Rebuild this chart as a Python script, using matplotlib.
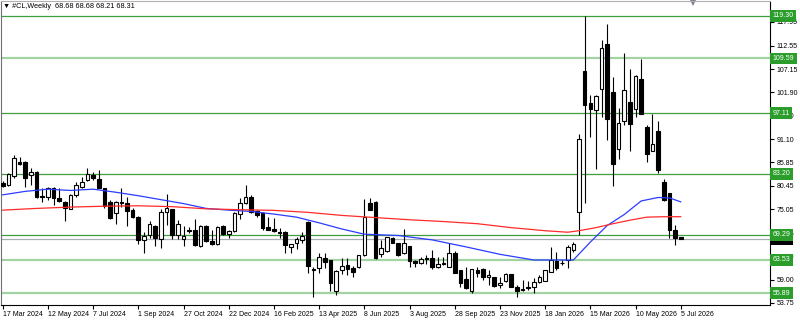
import numpy as np
import matplotlib
matplotlib.use('Agg')
import matplotlib.pyplot as plt
import matplotlib.transforms as mtransforms

plt.rcParams['font.family'] = ['Liberation Sans', 'DejaVu Sans']

# weekly OHLC, 17 Mar 2024 .. 5 Jul 2026
opens = [81.2, 80.65, 82.6, 86.0, 86.0, 82.9, 83.7, 78.1, 78.0, 79.9,
         77.6, 76.8, 75.2, 78.4, 80.3, 81.8, 82.9, 82.0, 79.9, 76.8,
         74.2, 76.8, 76.6, 74.9, 73.4, 68.1, 69.2, 71.3, 68.2, 74.4,
         75.1, 69.2, 68.4, 70.4, 70.3, 66.7, 71.3, 67.9, 67.15, 71.3,
         69.45, 70.13, 73.94, 76.46, 77.98, 74.7, 74.17, 70.97, 70.6, 69.98,
         69.8, 66.55, 67.5, 68.07, 72.27, 61.5, 61.6, 64.0, 63.5, 56.3,
         61.2, 62.3, 61.6, 61.8, 64.6, 76.46, 76.8, 64.9, 65.55, 68.45,
         67.5, 65.03, 66.7, 63.35, 62.9, 63.9, 63.9, 61.8, 62.9, 62.0,
         65.0, 61.2, 59.1, 56.5, 61.2, 61.4, 59.7, 59.7, 57.8, 58.8,
         60.2, 57.4, 56.8, 57.3, 57.4, 58.55, 58.8, 60.8, 63.35, 62.9,
         63.5, 65.8, 74.55, 106.8, 99.5, 97.8, 102.5, 112.8, 102.0, 88.9,
         95.4, 99.6, 97.96, 104.8, 93.9, 88.4, 92.9, 81.3, 78.75, 70.37,
         68.68]
highs = [81.5, 83.3, 87.5, 87.0, 86.2, 84.5, 83.8, 79.9, 80.1, 80.1,
         79.9, 76.9, 78.5, 81.4, 82.4, 84.5, 83.7, 84.1, 80.0, 77.2,
         77.0, 80.0, 77.8, 75.3, 73.5, 70.0, 72.4, 71.5, 75.2, 78.7,
         75.1, 72.6, 71.3, 71.0, 72.8, 71.5, 71.5, 70.4, 71.3, 71.4,
         70.4, 74.55, 77.6, 80.65, 78.4, 74.9, 74.55, 73.4, 73.18, 70.74,
         70.13, 67.2, 68.8, 69.98, 72.5, 61.8, 65.03, 65.0, 63.6, 61.2,
         63.9, 63.9, 62.1, 64.7, 77.4, 77.6, 77.0, 68.07, 68.8, 68.84,
         67.5, 70.5, 66.8, 63.5, 64.1, 64.6, 65.8, 64.26, 64.26, 67.3,
         65.5, 61.3, 61.98, 61.4, 61.98, 61.6, 61.2, 59.7, 59.7, 60.45,
         60.2, 57.8, 58.9, 58.8, 59.3, 60.1, 61.3, 66.4, 65.4, 63.5,
         66.9, 67.7, 92.4, 119.3, 101.2, 101.2, 113.8, 117.5, 105.4, 98.2,
         110.9, 107.2, 105.8, 109.4, 94.4, 96.9, 95.3, 81.95, 78.9, 71.5,
         68.68]
lows = [80.3, 80.5, 82.3, 85.2, 80.3, 80.65, 77.6, 76.7, 77.2, 76.1,
        76.8, 72.4, 75.1, 78.0, 80.0, 81.6, 81.9, 79.9, 75.3, 72.9,
        71.7, 75.7, 71.3, 73.2, 67.1, 65.0, 68.5, 66.7, 66.2, 71.5,
        68.3, 68.2, 66.6, 69.6, 66.7, 66.5, 67.7, 66.9, 66.9, 69.2,
        68.46, 69.98, 72.8, 76.4, 74.3, 73.4, 70.36, 70.3, 69.98, 68.46,
        65.0, 65.2, 66.0, 67.31, 60.45, 55.1, 60.6, 61.6, 56.3, 55.5,
        60.3, 60.1, 59.7, 61.7, 64.5, 74.9, 63.8, 64.26, 65.4, 67.3,
        64.4, 64.9, 62.0, 61.8, 62.6, 62.6, 61.4, 61.6, 62.4, 61.98,
        60.5, 57.4, 56.9, 56.0, 59.7, 58.9, 57.8, 57.4, 57.0, 58.55,
        57.4, 55.0, 56.5, 56.6, 55.9, 58.3, 58.7, 60.7, 61.2, 62.4,
        61.6, 65.4, 69.2, 76.5, 91.7, 84.2, 96.3, 90.95, 80.5, 86.7,
        94.4, 88.5, 96.1, 96.8, 86.0, 88.4, 83.3, 77.1, 68.46, 66.94,
        68.21]
closes = [80.5, 83.1, 86.75, 85.4, 82.2, 83.7, 78.0, 77.95, 79.9, 77.6,
          77.0, 75.3, 78.4, 80.65, 81.3, 83.2, 82.2, 79.9, 75.9, 73.0,
          76.8, 76.5, 74.8, 73.4, 68.1, 69.1, 71.7, 68.5, 74.4, 75.3,
          69.2, 71.7, 69.1, 70.1, 66.9, 71.3, 67.9, 67.15, 70.97, 69.45,
          70.13, 74.17, 76.46, 77.98, 74.4, 73.8, 70.9, 70.36, 70.13, 69.75,
          66.93, 67.15, 68.3, 69.0, 62.2, 61.3, 64.1, 63.1, 58.17, 61.0,
          62.2, 61.5, 60.7, 64.6, 73.4, 74.93, 63.9, 66.3, 68.7, 67.5,
          64.65, 67.46, 63.35, 62.9, 63.65, 63.65, 61.8, 62.5, 62.6, 65.0,
          60.6, 58.2, 57.0, 61.4, 60.6, 59.7, 60.1, 57.6, 58.3, 60.2,
          57.4, 56.5, 56.65, 57.0, 58.55, 59.5, 61.2, 63.5, 61.6, 62.75,
          66.4, 67.2, 91.1, 98.95, 97.96, 101.1, 111.9, 95.7, 85.4, 94.8,
          102.4, 94.6, 105.6, 96.8, 87.7, 90.0, 84.1, 77.2, 70.37, 68.46,
          68.31]

date_labels = ['17 Mar 2024', '12 May 2024', '7 Jul 2024', '1 Sep 2024',
               '27 Oct 2024', '22 Dec 2024', '16 Feb 2025', '13 Apr 2025',
               '8 Jun 2025', '3 Aug 2025', '28 Sep 2025', '23 Nov 2025',
               '18 Jan 2026', '15 Mar 2026', '10 May 2026', '5 Jul 2026']
price_ticks = [53.75, 59.00, 64.40, 69.65, 75.05, 80.45, 85.85, 91.10,
               96.50, 101.90, 107.15, 112.55, 117.95]

# moving averages (bar index, value)
fast_idx = [0, 4, 8, 12, 16, 20, 24, 28, 32, 36, 40, 44, 48, 52, 56, 60, 64,
            70, 76, 82, 88, 94, 101, 104, 107, 110, 113, 116, 118, 120]
fast_ma = [78.4, 79.2, 79.7, 79.4, 79.7, 79.0, 78.2, 77.3, 76.4, 75.3, 74.9,
           74.6, 74.0, 73.3, 72.0, 70.6, 69.4, 69.1, 68.1, 66.5, 64.8, 63.5,
           63.5, 67.6, 71.4, 73.9, 77.0, 77.8, 77.7, 76.8]
slow_idx = [0, 6, 12, 18, 24, 30, 36, 42, 48, 54, 60, 66, 72, 78, 84, 90, 96,
            100, 102, 105, 108, 111, 114, 117, 120]
slow_ma = [74.9, 75.3, 75.6, 75.8, 75.9, 75.7, 75.2, 75.0, 74.85, 74.4, 73.7,
           73.2, 72.7, 72.3, 71.8, 70.9, 70.2, 69.85, 70.2, 70.9, 71.8, 72.6,
           73.3, 73.4, 73.4]

dark_levels = [119.30, 97.11, 83.20, 69.29]
light_levels = [109.59, 63.53, 55.89]

o = np.array(opens)
h = np.array(highs)
l = np.array(lows)
c = np.array(closes)
x = np.arange(len(o))
up = c >= o

fig = plt.figure(figsize=(8, 3.2), dpi=100)
fig.patch.set_facecolor('white')
ax = fig.add_axes([1/800, 15/320, 769/800, 304/320])

for lv in dark_levels:
    ax.axhline(lv, color='#3f9f3f', linewidth=0.9, zorder=1)
for lv in light_levels:
    ax.axhline(lv, color='#a3d3a3', linewidth=1.6, zorder=1)
ax.axhline(c[-1], color='#a8afb6', linewidth=0.9, zorder=1)

ax.vlines(x, l, h, color='black', linewidth=0.8, zorder=3)
bot = np.minimum(o, c)
hgt = np.maximum(np.abs(c - o), 0.15)
ax.bar(x[up], hgt[up], bottom=bot[up], width=0.64, color='white',
       edgecolor='black', linewidth=0.8, zorder=4)
ax.bar(x[~up], hgt[~up], bottom=bot[~up], width=0.64, color='black',
       edgecolor='black', linewidth=0.8, zorder=4)

ax.plot(fast_idx, fast_ma, color='#2b3cff', linewidth=0.9, zorder=5)
ax.plot(slow_idx, slow_ma, color='#ff2b2b', linewidth=0.9, zorder=5)

ax.set_xlim(-0.3, 135.8)
ax.set_ylim(53.21, 122.73)

ax.yaxis.tick_right()
ax.set_yticks(price_ticks)
ax.set_yticklabels(['%.2f' % t for t in price_ticks])
ax.tick_params(axis='y', length=3, width=0.8, pad=2, labelsize=5)
ax.set_xticks(np.arange(0, len(o), 8))
ax.set_xticklabels(date_labels, ha='left')
ax.tick_params(axis='x', length=3, width=0.8, pad=1, labelsize=5)

ax.spines['top'].set_color('#b0b0b0')
ax.spines['left'].set_color('#707070')
for s in ax.spines.values():
    s.set_linewidth(0.8)

trans = mtransforms.blended_transform_factory(ax.transAxes, ax.transData)
# last price box sits under the green level boxes, as in the terminal
ax.text(1.0035, c[-1], '%.2f' % c[-1], transform=trans, fontsize=5, color='white',
        va='center', ha='left', clip_on=False, zorder=9,
        bbox=dict(boxstyle='square,pad=0.35', fc='black', ec='none'))
for lv in dark_levels + light_levels:
    ax.text(1.0035, lv, '%.2f' % lv, transform=trans, fontsize=5, color='white',
            va='center', ha='left', clip_on=False, zorder=10,
            bbox=dict(boxstyle='square,pad=0.35', fc='#2a9d2a', ec='none'))

ax.text(0.003, 0.982, '\u25bc #CL,Weekly  %.2f %.2f %.2f %.2f' % (o[-1], h[-1], l[-1], c[-1]),
        transform=ax.transAxes, fontsize=5.2, va='center', ha='left', color='black')
ax.plot([0.9], [0.995], marker='v', markersize=4, color='#7a8290',
        markeredgewidth=0, transform=ax.transAxes, clip_on=False)

fig.savefig('out.png', dpi=100, facecolor='white')
